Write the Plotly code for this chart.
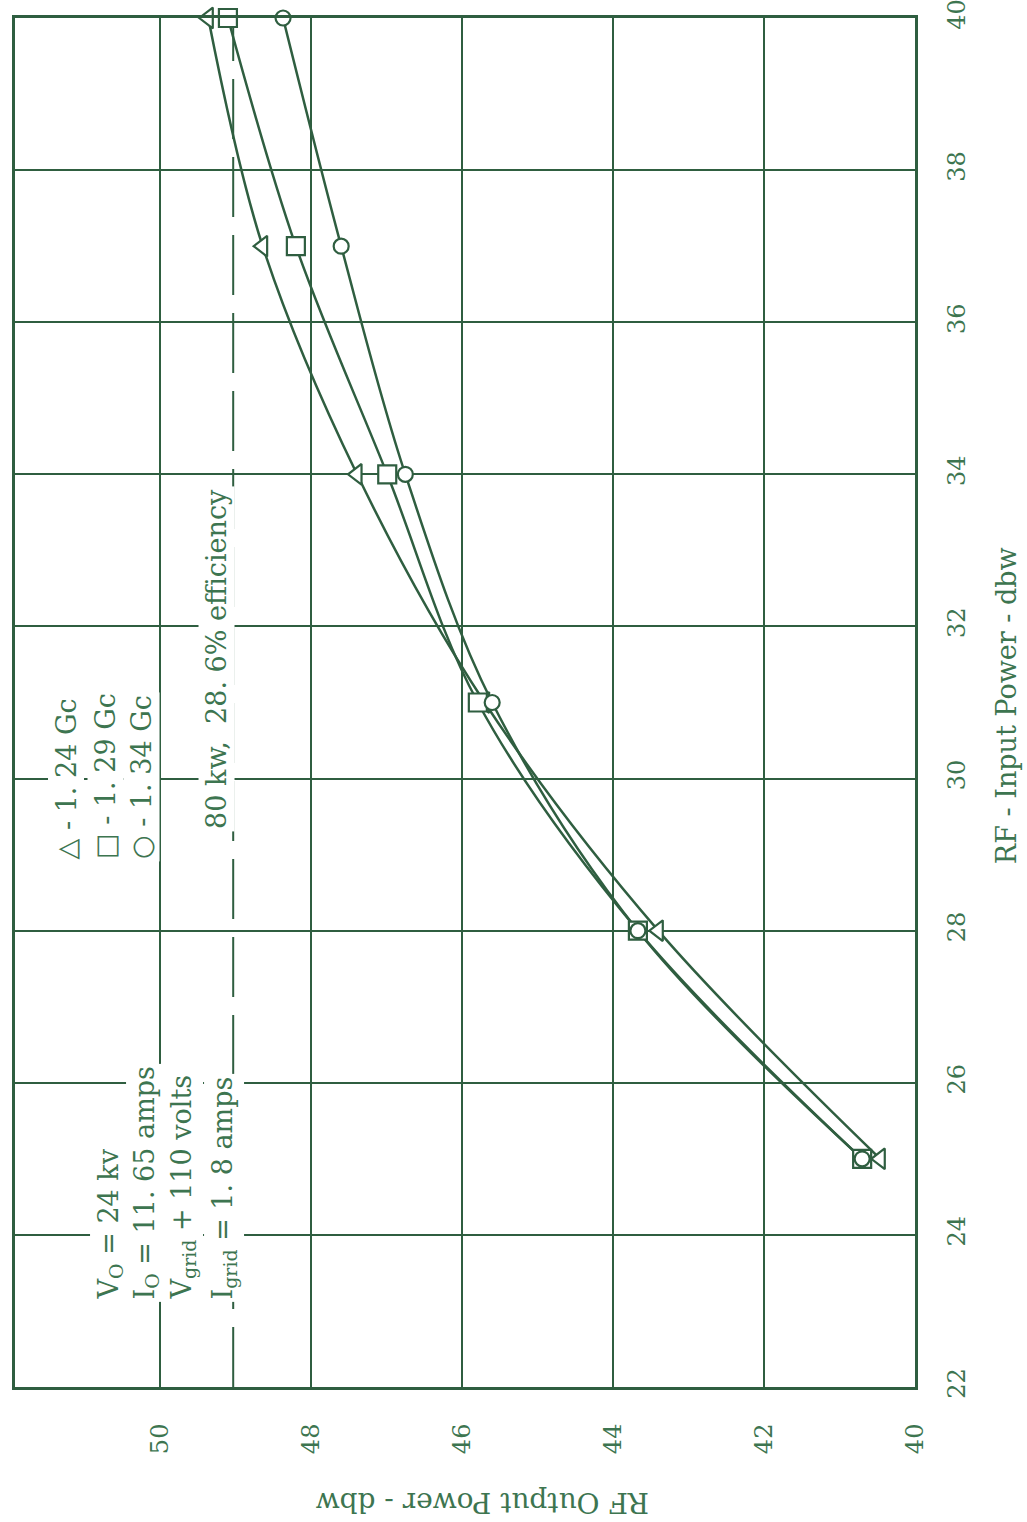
import plotly.graph_objects as go

# ---- data ----
input_power = [25, 28, 31, 34, 37, 40]          # RF input power, dbw
out_124 = [40.46, 43.40, 45.70, 47.39, 48.64, 49.36]   # triangle, 1.24 Gc
out_129 = [40.70, 43.67, 45.79, 46.99, 48.20, 49.10]   # square, 1.29 Gc
out_134 = [40.70, 43.67, 45.60, 46.75, 47.60, 48.37]   # circle, 1.34 Gc
series_names = ["1.24 Gc", "1.29 Gc", "1.34 Gc"]
output_ticks = [40, 42, 44, 46, 48, 50]
input_ticks = [22, 24, 26, 28, 30, 32, 34, 36, 38, 40]
eff_80kw = 49.03   # 80 kw line, dbw

LINE = "#2f5e40"
TEXT = "#3d7550"
FONT = "DejaVu Serif"

W, H = 1027, 1522
L, R, T, B = 15, 112, 18, 135
X_LEFT_VAL = 51.92


def px_to_out(px):
    return 40 + (915 - px) / 75.5


def py_to_in(py):
    return 40 - (py - 18) / 76.06


fig = go.Figure()

series = [(out_124, "triangle-left", 18), (out_129, "square", 18), (out_134, "circle", 15)]

# lines first
for (vals, sym, sz), name in zip(series, series_names):
    fig.add_trace(go.Scatter(x=vals, y=input_power, mode="lines",
                             line=dict(color=LINE, width=2.5, shape="spline", smoothing=1.0),
                             name=name, showlegend=False, hoverinfo="skip"))

# dashed 80 kw line
fig.add_trace(go.Scatter(x=[eff_80kw, eff_80kw], y=[22, 40], mode="lines",
                         line=dict(color=LINE, width=2, dash="60px,18px"),
                         showlegend=False, hoverinfo="skip"))

# markers on top
for (vals, sym, sz), name in zip(series, series_names):
    fig.add_trace(go.Scatter(x=vals, y=input_power, mode="markers", cliponaxis=False,
                             marker=dict(symbol=sym, size=sz, color="white",
                                         line=dict(color=LINE, width=2.2)),
                             name=name, showlegend=False))

annots = []


def add_text(text, px, py_bottom, size=27):
    annots.append(dict(x=px_to_out(px), y=py_to_in(py_bottom), xref="x", yref="y",
                       text=text, textangle=-90, showarrow=False,
                       xanchor="center", yanchor="bottom", align="left",
                       font=dict(family=FONT, size=size, color=TEXT),
                       bgcolor="white", borderpad=2))


add_text("V<sub>O</sub> = 24 kv", 110, 1302)
add_text("I<sub>O</sub> = 11. 65 amps", 146, 1302)
add_text("V<sub>grid</sub> + 110 volts", 183, 1302)
add_text("I<sub>grid</sub> = 1. 8 amps", 224, 1302)

add_text("△ - 1. 24 Gc", 66, 862)
add_text("□ - 1. 29 Gc", 106, 862)
add_text("○ - 1. 34 Gc", 142, 862)
add_text("80 kw,  28. 6% efficiency", 217, 832)

# axis titles
annots.append(dict(x=0.52, y=-0.084, xref="paper", yref="paper",
                   xanchor="center", yanchor="middle",
                   text="RF Output Power - dbw", textangle=180, showarrow=False,
                   font=dict(family=FONT, size=28, color=TEXT)))
annots.append(dict(x=1.101, y=0.498, xref="paper", yref="paper",
                   xanchor="center", yanchor="middle",
                   text="RF - Input Power - dbw", textangle=-90, showarrow=False,
                   font=dict(family=FONT, size=27, color=TEXT)))

fig.update_layout(
    width=W, height=H,
    margin=dict(l=L, r=R, t=T, b=B, autoexpand=False),
    paper_bgcolor="white", plot_bgcolor="white",
    showlegend=False,
    annotations=annots,
    xaxis=dict(range=[X_LEFT_VAL, 40], tickvals=output_ticks,
               ticktext=[str(v) for v in output_ticks],
               tickangle=-90, ticklabelstandoff=24, ticklabeloverflow="allow",
               automargin=False,
               tickfont=dict(family=FONT, size=24, color=TEXT),
               showgrid=True, gridcolor=LINE, gridwidth=2,
               showline=True, linecolor=LINE, linewidth=3, mirror=True,
               zeroline=False, ticks=""),
    yaxis=dict(range=[22, 40], tickvals=input_ticks, side="right",
               ticktext=[str(v) for v in input_ticks],
               tickangle=-90, ticklabelstandoff=18, ticklabeloverflow="allow",
               automargin=False,
               tickfont=dict(family=FONT, size=24, color=TEXT),
               showgrid=True, gridcolor=LINE, gridwidth=2,
               showline=True, linecolor=LINE, linewidth=3, mirror=True,
               zeroline=False, ticks=""),
)

fig.write_html("out.html")
